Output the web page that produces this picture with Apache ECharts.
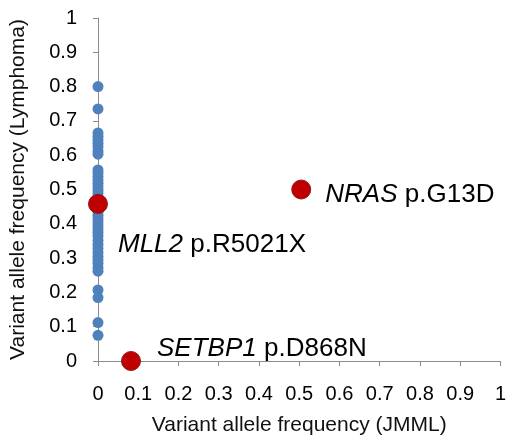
<!DOCTYPE html>
<html><head><meta charset="utf-8">
<script src="https://cdn.jsdelivr.net/npm/echarts@6/dist/echarts.min.js"></script>
<style>html,body{margin:0;padding:0;background:#fff}#c{width:509px;height:441px}</style>
</head><body><div id="c"></div>
<script>
const xTicks = [0,0.1,0.2,0.3,0.4,0.5,0.6,0.7,0.8,0.9,1];
const yTicks = [0,0.1,0.2,0.3,0.4,0.5,0.6,0.7,0.8,0.9,1];
const blueY = [0.8,0.735,0.665,0.655,0.645,0.635,0.625,0.612,0.603,
  0.557,0.548,0.538,0.528,0.518,0.508,0.498,0.488,0.478,0.468,0.455,0.445,0.435,0.425,0.415,0.405,0.395,0.385,0.375,0.365,0.352,0.34,0.328,0.316,0.305,0.295,0.285,0.272,0.262,
  0.207,0.185,0.112,0.075];
const blueX = blueY.map(()=>0);
const redX = [0, 0.082, 0.505];
const redY = [0.458, 0, 0.5];
const redGene = ['MLL2','SETBP1','NRAS'];
const redChange = ['p.R5021X','p.D868N','p.G13D'];
const labelOffsets = [[5,41],[11,-12],[9,5]];

const font = '"Liberation Sans", Arial, sans-serif';
const chart = echarts.init(document.getElementById('c'));
chart.setOption({
  animation:false,
  grid:{left:98,right:5,top:18,bottom:78,containLabel:false},
  xAxis:{type:'value',min:0,max:1,interval:0.1,
    name:'Variant allele frequency (JMML)',nameLocation:'middle',nameGap:54,
    nameTextStyle:{fontFamily:font,fontSize:21,color:'#111'},
    axisLine:{show:true,onZero:false,lineStyle:{color:'#8c8c8c',width:1}},
    axisTick:{show:true,length:5,lineStyle:{color:'#8c8c8c'}},
    splitLine:{show:false},
    axisLabel:{fontFamily:font,fontSize:20,color:'#000',margin:23,
      formatter:v=>{const t=xTicks.find(a=>Math.abs(a-v)<1e-6);return t===undefined?'':String(t);}}
  },
  yAxis:{type:'value',min:0,max:1,interval:0.1,
    name:'Variant allele frequency (Lymphoma)',nameLocation:'middle',nameGap:69,
    nameTextStyle:{fontFamily:font,fontSize:21,color:'#111'},
    axisLine:{show:true,onZero:false,lineStyle:{color:'#8c8c8c',width:1}},
    axisTick:{show:true,length:5,lineStyle:{color:'#8c8c8c'}},
    splitLine:{show:false},
    axisLabel:{fontFamily:font,fontSize:20,color:'#000',margin:21,
      formatter:v=>{const t=yTicks.find(a=>Math.abs(a-v)<1e-6);return t===undefined?'':String(t);}}
  },
  series:[
    {type:'scatter',symbolSize:11,itemStyle:{color:'#4f81bd',opacity:1},
     data:blueX.map((x,i)=>[x,blueY[i]]),z:2},
    {type:'scatter',symbolSize:19,itemStyle:{color:'#c00000',borderColor:'#8b1a1a',borderWidth:1,opacity:1},z:3,
     data:redX.map((x,i)=>({value:[x,redY[i]],
       label:{show:true,position:'right',offset:labelOffsets[i],color:'#000',
         formatter:'{g|'+redGene[i]+'} {c|'+redChange[i]+'}',
         rich:{g:{fontFamily:font,fontSize:26,fontStyle:'italic',color:'#000',padding:[0,4,0,0]},
               c:{fontFamily:font,fontSize:26,color:'#000'}}}}))
    }
  ]
});
</script></body></html>
